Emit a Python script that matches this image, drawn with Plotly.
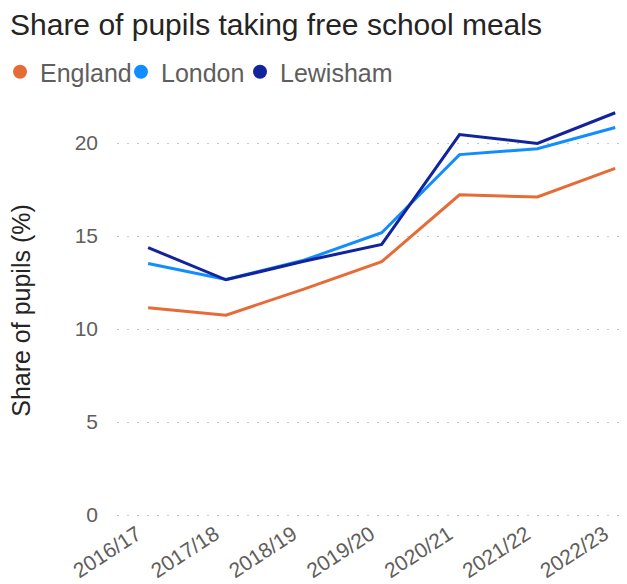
import plotly.graph_objects as go

# School years on the category axis
years = ["2016/17", "2017/18", "2018/19", "2019/20", "2020/21", "2021/22", "2022/23"]

# Share of pupils taking free school meals (%)
england = [11.15, 10.75, 12.15, 13.62, 17.22, 17.1, 18.64]
london = [13.53, 12.67, 13.7, 15.18, 19.38, 19.7, 20.84]
lewisham = [14.38, 12.65, 13.65, 14.55, 20.46, 19.98, 21.63]

series_names = ["England", "London", "Lewisham"]
series_values = [england, london, lewisham]
series_colors = ["#E66C37", "#118DFF", "#12239E"]
legend_ids = ["legend", "legend2", "legend3"]
legend_left_px = [-6, 121, 240]

fig = go.Figure()

for name, vals, col in zip(series_names, series_values, series_colors):
    fig.add_trace(go.Scatter(
        x=years, y=vals, name=name, mode="lines",
        line=dict(color=col, width=3),
        showlegend=False,
    ))

# Round legend keys, one small legend box per series
for name, col, lid in zip(series_names, series_colors, legend_ids):
    fig.add_trace(go.Scatter(
        x=[None], y=[None], name=name, mode="markers",
        marker=dict(color=col, size=14, symbol="circle"),
        showlegend=True, legend=lid,
    ))

font_family = "Liberation Sans, Arial, sans-serif"

legend_style = dict(
    orientation="h",
    xref="container", yref="container",
    xanchor="left",
    y=1 - 49 / 584, yanchor="top",
    font=dict(size=25, color="#605E5C", family=font_family),
    itemwidth=30,
    bgcolor="rgba(0,0,0,0)",
)

fig.update_layout(
    width=627, height=584,
    margin=dict(l=117, r=4, t=104, b=67, autoexpand=False),
    paper_bgcolor="white", plot_bgcolor="white",
    font=dict(family=font_family, color="#605E5C"),
    title=dict(
        text="Share of pupils taking free school meals",
        font=dict(size=30, color="#252423", family=font_family),
        xref="container", yref="container",
        x=10 / 627, xanchor="left",
        y=1 - 24 / 584, yanchor="middle",
    ),
    showlegend=True,
)

for lid, px in zip(legend_ids, legend_left_px):
    fig.update_layout({lid: dict(legend_style, x=px / 627)})

fig.update_xaxes(
    type="category",
    range=[-0.4, 6.1],
    automargin=False,
    showgrid=False, zeroline=False, showline=False,
    ticks="",
    tickangle=-33,
    ticklabelshift=-11,
    ticklabelstandoff=0,
    tickfont=dict(size=21, color="#605E5C"),
)

fig.update_yaxes(
    range=[-0.1, 22.1],
    automargin=False,
    tickvals=[0, 5, 10, 15, 20],
    showgrid=True, gridcolor="#C8C6C4", gridwidth=1, griddash="2px,8px",
    zeroline=False, showline=False,
    ticks="",
    ticklabelstandoff=18,
    tickfont=dict(size=21, color="#605E5C"),
    title=dict(text="Share of pupils (%)", standoff=36,
               font=dict(size=25, color="#252423")),
)

fig.write_html("out.html")
